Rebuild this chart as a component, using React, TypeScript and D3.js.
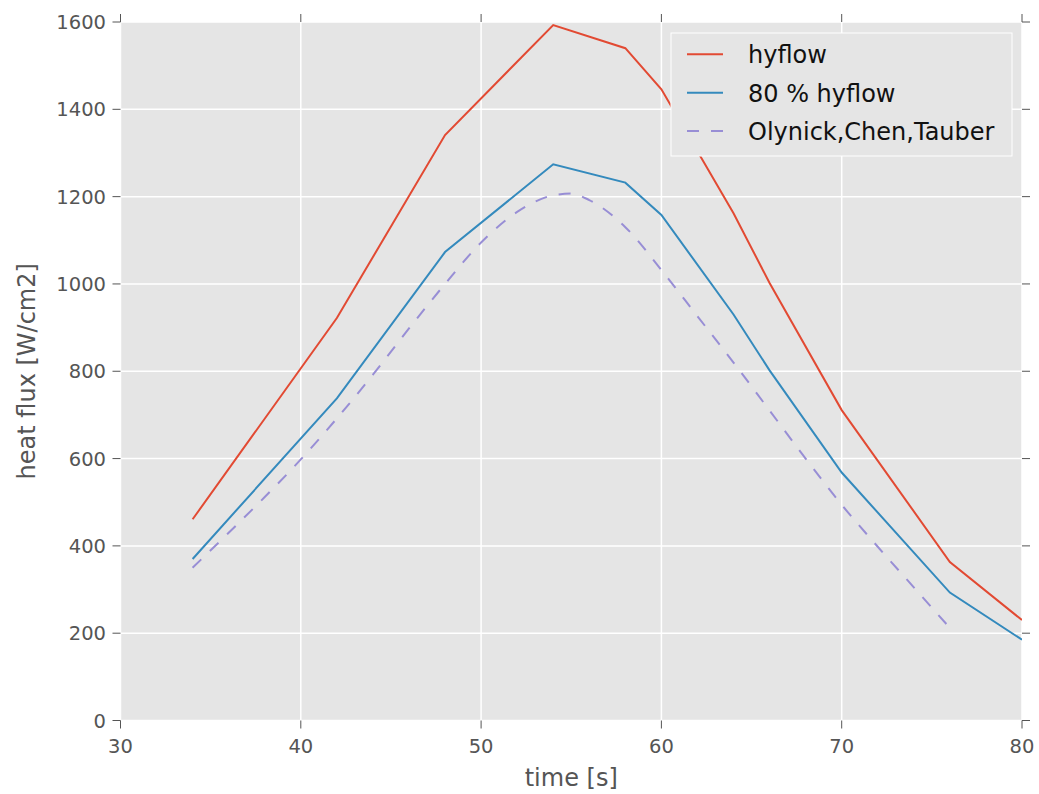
import React from "react";
import * as d3 from "d3";

// Measured time stamps and heat flux values (W/cm2)
const hyflowTime = [34, 42, 48, 54, 58, 60, 64, 66, 70, 76, 80];
const hyflowFlux = [461, 922, 1341, 1593, 1540, 1446, 1162, 1002, 711, 363, 230];

const hyflow80Time = [34, 42, 48, 54, 58, 60, 64, 66, 70, 76, 80];
const hyflow80Flux = [370, 738, 1073, 1274, 1232, 1158, 930, 802, 568, 293, 185];

const ocdTime = [34, 36, 38, 40, 42, 44, 46, 48, 50, 52, 54, 55, 56, 58, 60, 62, 64, 66, 68, 70, 72, 74, 76];
const ocdFlux = [350, 430, 512, 598, 692, 792, 898, 1000, 1095, 1165, 1203, 1207, 1192, 1130, 1032, 926, 820, 710, 600, 494, 398, 305, 212];

const xTicks = [30, 40, 50, 60, 70, 80];
const yTicks = [0, 200, 400, 600, 800, 1000, 1200, 1400, 1600];

const seriesNames = ["hyflow", "80 % hyflow", "Olynick,Chen,Tauber"];
const seriesColors = ["#E24A33", "#348ABD", "#988ED5"];

const W = 1039;
const H = 794;
const left = 120.5;
const right = 1022;
const top = 22;
const bottom = 720.5;
const FONT = "DejaVu Sans";
const TICK_COLOR = "#555555";

export default function App() {
  const x = d3.scaleLinear().domain([30, 80]).range([left, right]);
  const y = d3.scaleLinear().domain([0, 1600]).range([bottom, top]);

  const straight = d3
    .line<[number, number]>()
    .x((d) => x(d[0]))
    .y((d) => y(d[1]));
  const smooth = d3
    .line<[number, number]>()
    .x((d) => x(d[0]))
    .y((d) => y(d[1]))
    .curve(d3.curveMonotoneX);

  const zip = (a: number[], b: number[]) => a.map((v, i) => [v, b[i]] as [number, number]);

  const legendX = 671;
  const legendY = 33;
  const legendRows = [54.3, 92.7, 131];

  return (
    <svg
      width={W}
      height={H}
      style={{ position: "absolute", left: 0, top: 0, background: "#fff" }}
      fontFamily={FONT}
    >
      <defs>
        <clipPath id="plotClip">
          <rect x={left} y={top} width={right - left} height={bottom - top} />
        </clipPath>
      </defs>

      {/* plot background */}
      <rect x={left} y={top} width={right - left} height={bottom - top} fill="#E5E5E5" />

      {/* grid */}
      {xTicks.map((t) => (
        <line key={"gx" + t} x1={x(t)} x2={x(t)} y1={top} y2={bottom} stroke="#fff" strokeWidth={1.5} />
      ))}
      {yTicks.map((t) => (
        <line key={"gy" + t} x1={left} x2={right} y1={y(t)} y2={y(t)} stroke="#fff" strokeWidth={1.5} />
      ))}

      {/* tick marks on all four sides, pointing outward */}
      {xTicks.map((t) => (
        <g key={"tx" + t} stroke={TICK_COLOR} strokeWidth={1}>
          <line x1={x(t)} x2={x(t)} y1={bottom} y2={bottom + 8} />
          <line x1={x(t)} x2={x(t)} y1={top} y2={top - 8} />
        </g>
      ))}
      {yTicks.map((t) => (
        <g key={"ty" + t} stroke={TICK_COLOR} strokeWidth={1}>
          <line x1={left} x2={left - 8} y1={y(t)} y2={y(t)} />
          <line x1={right} x2={right + 8} y1={y(t)} y2={y(t)} />
        </g>
      ))}

      {/* tick labels */}
      {xTicks.map((t) => (
        <text key={"lx" + t} x={x(t)} y={753} textAnchor="middle" fontSize={19.5} fill={TICK_COLOR}>
          {t}
        </text>
      ))}
      {yTicks.map((t) => (
        <text key={"ly" + t} x={106} y={y(t)} dy="0.36em" textAnchor="end" fontSize={19.5} fill={TICK_COLOR}>
          {t}
        </text>
      ))}

      {/* axis titles */}
      <text x={(left + right) / 2} y={786} textAnchor="middle" fontSize={24} fill={TICK_COLOR}>
        time [s]
      </text>
      <text
        transform={`translate(35,${(top + bottom) / 2}) rotate(-90)`}
        textAnchor="middle"
        fontSize={24}
        fill={TICK_COLOR}
      >
        heat flux [W/cm2]
      </text>

      {/* series */}
      <g clipPath="url(#plotClip)" fill="none" strokeWidth={2}>
        <path d={straight(zip(hyflowTime, hyflowFlux)) || ""} stroke={seriesColors[0]} />
        <path d={straight(zip(hyflow80Time, hyflow80Flux)) || ""} stroke={seriesColors[1]} />
        <path d={smooth(zip(ocdTime, ocdFlux)) || ""} stroke={seriesColors[2]} strokeDasharray="12,12" />
      </g>

      {/* legend */}
      <rect x={legendX} y={legendY} width={341} height={123} fill="#E5E5E5" stroke="#fff" strokeWidth={1} />
      {seriesNames.map((name, i) => (
        <g key={name}>
          <line
            x1={687}
            x2={723}
            y1={legendRows[i]}
            y2={legendRows[i]}
            stroke={seriesColors[i]}
            strokeWidth={2}
            strokeDasharray={i === 2 ? "12,12" : undefined}
          />
          <text x={748} y={legendRows[i] + 9} fontSize={24} fill="#111">
            {name}
          </text>
        </g>
      ))}
    </svg>
  );
}
